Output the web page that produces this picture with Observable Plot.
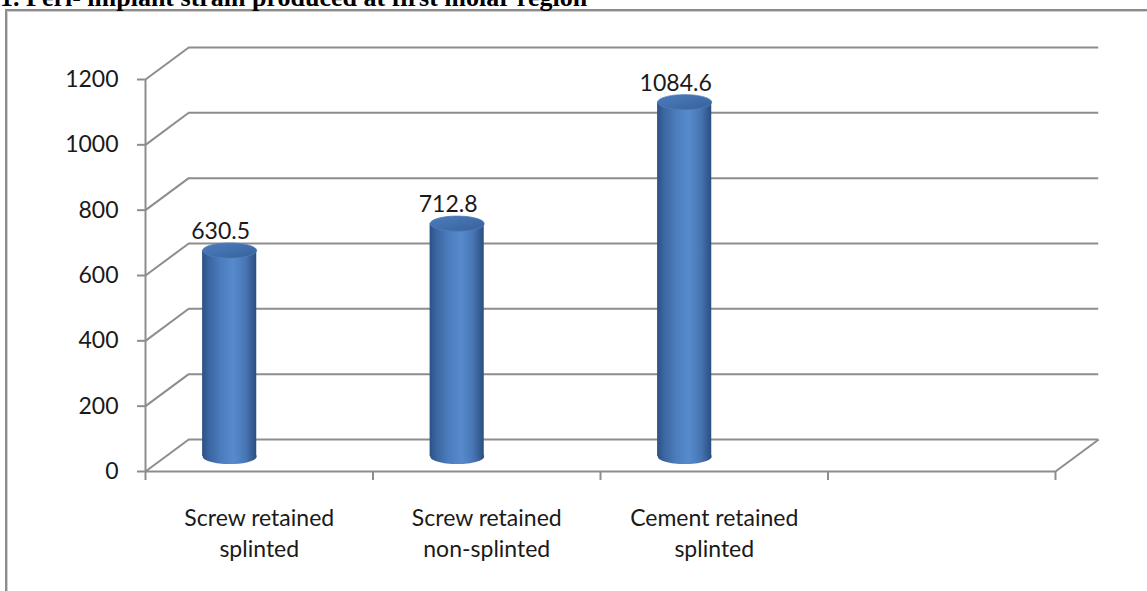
<!DOCTYPE html>
<html>
<head>
<meta charset="utf-8">
<script src="https://cdn.jsdelivr.net/npm/d3@7"></script>
<script src="https://cdn.jsdelivr.net/npm/@observablehq/plot@0.6"></script>
<style>
  html, body { margin: 0; padding: 0; background: #fff; width: 1147px; height: 591px; overflow: hidden; position: relative; }
  #chart { position: absolute; left: 0; top: 0; }
  #frame { position: absolute; left: 5px; top: 9px; width: 1300px; height: 800px;
           border-left: 2px solid #8c8c8c; border-top: 2px solid #8c8c8c;
           box-shadow: inset 1px 1px 0 #d0d0d0; pointer-events: none; }
  #title { position: absolute; left: 0; top: -15px; margin: 0; white-space: nowrap;
           font: bold 26px/26px "Liberation Serif", "Times New Roman", serif; color: #000; }
</style>
</head>
<body>
<div id="chart"></div>
<div id="frame"></div>
<h1 id="title">1. Peri- implant strain produced at first molar region</h1>
<script>
// ---- data ----
const categories = ["Screw retained splinted", "Screw retained non-splinted", "Cement retained splinted"];
const values = [630.5, 712.8, 1084.6];
const yTicks = [0, 200, 400, 600, 800, 1000, 1200];
const slotCount = 4; // the category axis has one empty slot at the right

// ---- geometry / style constants ----
const DEPTH_X = 0.19;   // back-wall offset in category units
const DEPTH_Y = 98;     // back-wall offset in value units
const BAR_SHIFT = -0.13; // cylinder centre relative to slot middle
const BAR_HALF = 0.119;  // cylinder half width in category units
const BAR_R = 27;        // cylinder radius in px (for the ellipse caps)
const BAR_DY = -15;      // cylinders stand in the middle of the floor depth
const GRID = "#8d8d8d";
const TEXT = "#1a1a1a";
const FONT = "Lato, 'Open Sans', sans-serif";
const FS = 23;

const rows = categories.map((cat, i) => ({ cat, value: values[i], i, center: i + 0.5 + BAR_SHIFT }));
const wrap = (s) => s.replace(" retained ", " retained\n");

const ellipse = {
  draw(ctx, size) {
    const r = Math.sqrt(size / Math.PI), rx = r, ry = r * 0.28, k = 0.5523;
    ctx.moveTo(rx, 0);
    ctx.bezierCurveTo(rx, ry * k, rx * k, ry, 0, ry);
    ctx.bezierCurveTo(-rx * k, ry, -rx, ry * k, -rx, 0);
    ctx.bezierCurveTo(-rx, -ry * k, -rx * k, -ry, 0, -ry);
    ctx.bezierCurveTo(rx * k, -ry, rx, -ry * k, rx, 0);
    ctx.closePath();
  }
};

const chart = Plot.plot({
  width: 1147,
  height: 591,
  marginLeft: 145,
  marginRight: 92,
  marginTop: 79,
  marginBottom: 120,
  style: { background: "transparent", overflow: "visible", fontFamily: FONT, fontSize: FS + "px", color: TEXT },
  x: { type: "linear", domain: [0, slotCount], label: null },
  y: { type: "linear", domain: [0, d3.max(yTicks)], label: null },
  marks: [
    // back wall gridlines
    Plot.ruleY(yTicks, { y: (d) => d + DEPTH_Y, x1: DEPTH_X, x2: slotCount + DEPTH_X, stroke: GRID, strokeWidth: 2 }),
    // side wall diagonals
    Plot.link(yTicks, { x1: 0, y1: (d) => d, x2: DEPTH_X, y2: (d) => d + DEPTH_Y, stroke: GRID, strokeWidth: 2 }),
    // right floor diagonal
    Plot.link([0], { x1: slotCount, y1: 0, x2: slotCount + DEPTH_X, y2: DEPTH_Y, stroke: GRID, strokeWidth: 2 }),
    // front floor edge and value axis line
    Plot.ruleY([0], { x1: 0, x2: slotCount, stroke: GRID, strokeWidth: 2 }),
    Plot.ruleX([0], { y1: 0, y2: d3.max(yTicks), stroke: GRID, strokeWidth: 2 }),
    Plot.axisY({ ticks: yTicks, tickSize: 8, tickPadding: 19, tickFormat: (d) => `${d}`, label: null,
                 stroke: GRID, strokeWidth: 2, fill: TEXT, fontSize: FS }),
    Plot.axisX({ ticks: d3.range(slotCount + 1), tickSize: 9, tickFormat: () => "", label: null,
                 stroke: GRID, strokeWidth: 2 }),
    // category labels
    Plot.text(rows, { x: (d) => d.i + 0.5, y: 0, text: (d) => wrap(d.cat), dy: 32,
                      lineAnchor: "top", lineHeight: 1.35, fontSize: FS, fill: TEXT }),
    // cylinders
    Plot.dot(rows, { x: "center", y: 0, dy: BAR_DY, r: BAR_R, symbol: ellipse, fill: "url(#cylBody)" }),
    Plot.rect(rows, { x1: (d) => d.center - BAR_HALF, x2: (d) => d.center + BAR_HALF, y1: 0, y2: "value",
                      dy: BAR_DY, fill: "url(#cylBody)" }),
    Plot.dot(rows, { x: "center", y: "value", dy: BAR_DY, r: BAR_R, symbol: ellipse,
                     fill: "url(#cylTop)", stroke: "#4f7fbd", strokeWidth: 0.8 }),
    // value labels
    Plot.text(rows, { x: "center", y: "value", text: (d) => String(d.value), dx: -9, dy: BAR_DY - 19,
                      fontSize: FS, fill: TEXT })
  ]
});

document.getElementById("chart").appendChild(chart);

// gradients for the cylinder shading
const defs = d3.select(chart).insert("defs", ":first-child");
const bodyGrad = defs.append("linearGradient").attr("id", "cylBody")
  .attr("x1", 0).attr("x2", 1).attr("y1", 0).attr("y2", 0);
[[0, "#2c5185"], [0.12, "#3a65a0"], [0.35, "#4c7dbe"], [0.58, "#578bcd"], [0.8, "#4876b4"], [1, "#2b4e80"]]
  .forEach(([o, c]) => bodyGrad.append("stop").attr("offset", o).attr("stop-color", c));
const topGrad = defs.append("linearGradient").attr("id", "cylTop")
  .attr("x1", 0).attr("x2", 1).attr("y1", 0).attr("y2", 1);
[[0, "#4c7cbc"], [0.5, "#4270ad"], [1, "#365f98"]]
  .forEach(([o, c]) => topGrad.append("stop").attr("offset", o).attr("stop-color", c));
</script>
</body>
</html>
